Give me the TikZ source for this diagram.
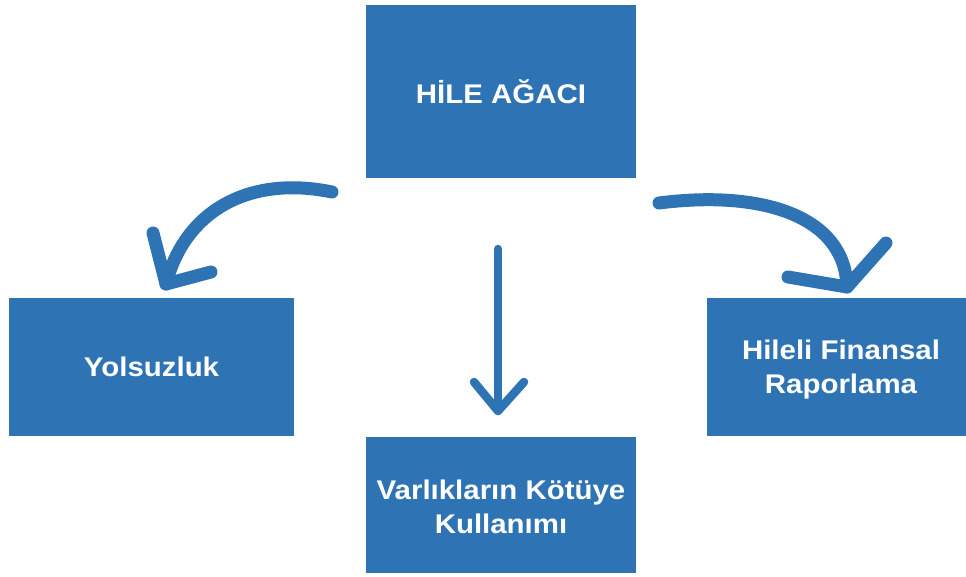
\documentclass[tikz,border=0pt]{standalone}
\usepackage{fontspec}
\setmainfont{Liberation Sans}[FakeStretch=1.09]
\definecolor{boxblue}{HTML}{2E74B5}
\begin{document}
\begin{tikzpicture}[x=1pt,y=-1pt,
  box/.style={fill=boxblue,draw=none,text=white,font=\fontsize{27}{34}\selectfont\bfseries,align=center,inner sep=0pt},
  bigarrow/.style={draw=boxblue,line width=13pt,line cap=round,line join=round},
  thinarrow/.style={draw=boxblue,line width=8.5pt,line cap=round,line join=round}]
\useasboundingbox (0,0) rectangle (966,577);
\fill[boxblue] (366,5) rectangle (636,178);
\node[box] (top) at (501,91.5) {HİLE AĞACI};
\fill[boxblue] (9,298) rectangle (294,436);
\node[box] (yol) at (151.5,367) {Yolsuzluk};
\fill[boxblue] (366,437) rectangle (636,573);
\node[box] (var) at (501,507) {Varlıkların Kötüye\\Kullanımı};
\fill[boxblue] (707,298) rectangle (966,436);
\node[box] (hil) at (841,370) {Hileli Finansal\\Raporlama};
% left curved arrow
\coordinate (l0) at (332,192);
\coordinate (lt) at (166,284);
\coordinate (la) at (153,233);
\coordinate (lb) at (211,272);
\draw[bigarrow] (l0) .. controls (250,175) and (185,210) .. (lt);
\draw[bigarrow] (la) -- (lt) -- (lb);
% right curved arrow
\coordinate (r0) at (659,203);
\coordinate (rt) at (847,287);
\coordinate (ra) at (886,243);
\coordinate (rb) at (788,277);
\draw[bigarrow] (r0) .. controls (760,190) and (845,215) .. (rt);
\draw[bigarrow] (ra) -- (rt) -- (rb);
% straight arrow
\coordinate (s0) at (498,249);
\coordinate (st) at (498,411);
\coordinate (sa) at (474,382);
\coordinate (sb) at (524,382);
\draw[thinarrow] (s0) -- (st);
\draw[thinarrow] (sa) -- (st) -- (sb);
\end{tikzpicture}
\end{document}
